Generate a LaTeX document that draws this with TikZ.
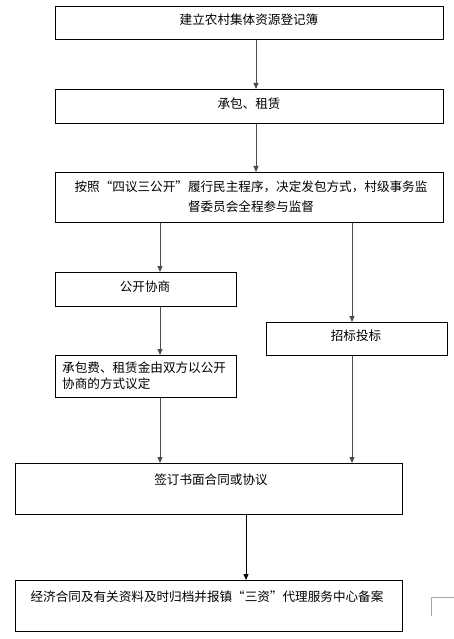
\documentclass[tikz,border=0pt]{standalone}
\usepackage{fontspec}
\newfontfamily\cjk{Noto Sans CJK SC}
\usetikzlibrary{arrows.meta}
\begin{document}
\begin{tikzpicture}[x=1pt,y=-1pt,
  box/.style={draw=black,line width=0.9pt,rectangle,inner sep=0pt,anchor=north west},
  txt/.style={font=\cjk\fontsize{12.6}{20}\selectfont,inner sep=0pt,align=center},
  arr/.style={draw=black!70,line width=0.9pt,-{Triangle[length=6pt,width=5pt]}}]
\useasboundingbox (0,0) rectangle (454,639);
% boxes
\node[box,minimum width=388pt,minimum height=33pt] (b1) at (55,6) {};
\node[box,minimum width=388pt,minimum height=34pt] (b2) at (55,89) {};
\node[box,minimum width=388pt,minimum height=50pt] (b3) at (55,172) {};
\node[box,minimum width=181pt,minimum height=34pt] (b4) at (55,272) {};
\node[box,minimum width=181pt,minimum height=42pt] (b5) at (55,355) {};
\node[box,minimum width=181pt,minimum height=33pt] (b6) at (266,322) {};
\node[box,minimum width=387pt,minimum height=51pt] (b7) at (15,463) {};
\node[box,minimum width=387pt,minimum height=51pt] (b8) at (15,580) {};
% texts
\node[txt] (t1) at (249,20) {建立农村集体资源登记簿};
\node[txt] (t2) at (249,104) {承包、租赁};
\node[txt,anchor=north] (t3) at (251,181) {按照“四议三公开”履行民主程序，决定发包方式，村级事务监\\督委员会全程参与监督};
\node[txt] (t4) at (145,287) {公开协商};
\node[txt,anchor=north west,align=left,font=\cjk\fontsize{12.6}{16}\selectfont] (t5) at (62,362) {承包费、租赁金由双方以公开\\协商的方式议定};
\node[txt] (t6) at (356,336) {招标投标};
\node[txt] (t7) at (211,480) {签订书面合同或协议};
\node[txt] (t8) at (207,597) {经济合同及有关资料及时归档并报镇“三资”代理服务中心备案};
% arrows
\draw[arr] (b1.south -| 256,0) -- (b2.north -| 256,0);
\draw[arr] (b2.south -| 256,0) -- (b3.north -| 256,0);
\draw[arr] (b3.south -| 160,0) -- (b4.north -| 160,0);
\draw[arr] (b3.south -| 352,0) -- (b6.north -| 352,0);
\draw[arr] (b4.south -| 160,0) -- (b5.north -| 160,0);
\draw[arr] (b5.south -| 160,0) -- (b7.north -| 160,0);
\draw[arr] (b6.south -| 352,0) -- (b7.north -| 352,0);
\draw[arr,draw=black] (b7.south -| 246,0) -- (b8.north -| 246,0);
% corner mark
\coordinate (c1) at (454,597);
\coordinate (c2) at (431,597);
\coordinate (c3) at (431,616);
\draw[black!35,line width=0.6pt] (c1) -- (c2) -- (c3);
\end{tikzpicture}
\end{document}
